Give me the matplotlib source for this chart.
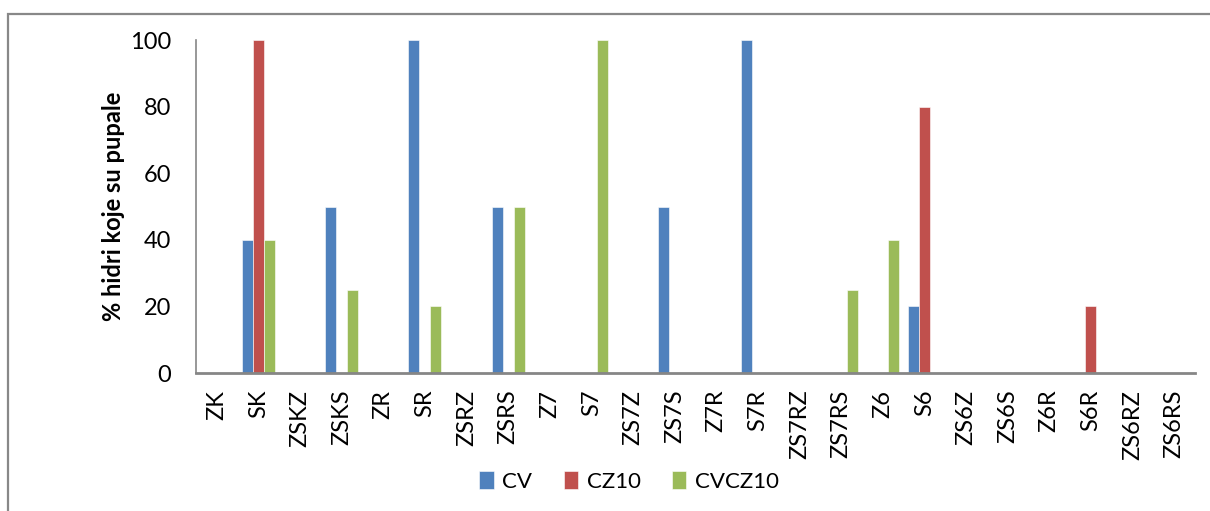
import numpy as np
import matplotlib.pyplot as plt
from matplotlib.patches import Rectangle

categories = ["ZK", "SK", "ZSKZ", "ZSKS", "ZR", "SR", "ZSRZ", "ZSRS", "Z7", "S7",
              "ZS7Z", "ZS7S", "Z7R", "S7R", "ZS7RZ", "ZS7RS", "Z6", "S6", "ZS6Z",
              "ZS6S", "Z6R", "S6R", "ZS6RZ", "ZS6RS"]
cv = [0, 40, 0, 50, 0, 100, 0, 50, 0, 0, 0, 50, 0, 100, 0, 0, 0, 20, 0, 0, 0, 0, 0, 0]
cz10 = [0, 100, 0, 0, 0, 0, 0, 0, 0, 0, 0, 0, 0, 0, 0, 0, 0, 80, 0, 0, 0, 20, 0, 0]
cvcz10 = [0, 40, 0, 25, 0, 20, 0, 50, 0, 100, 0, 0, 0, 0, 0, 25, 40, 0, 0, 0, 0, 0, 0, 0]
series = [("CV", cv, "#4f81bd"), ("CZ10", cz10, "#c0504d"), ("CVCZ10", cvcz10, "#9bbb59")]

plt.rcParams["font.family"] = ["Lato", "DejaVu Sans"]

fig = plt.figure(figsize=(12.1, 5.11), dpi=100)
ax = fig.add_axes([0.162, 0.270, 0.8256, 0.6517])

# chart area border (Excel style)
fig.patches.append(Rectangle((8 / 1210, -0.2), 1.2, 1.2 - 14 / 511,
                             transform=fig.transFigure, fill=False,
                             edgecolor="#888888", linewidth=1.6))

x = np.arange(len(categories))
w = 0.265
for i, (name, vals, col) in enumerate(series):
    ax.bar(x + (i - 1) * w, vals, width=w, color=col, label=name,
           edgecolor="white", linewidth=0.4)

ax.set_xlim(-0.5, len(categories) - 0.5)
ax.set_ylim(0, 100)
ax.set_yticks(range(0, 101, 20))
ax.set_xticks(x)
ax.set_xticklabels(categories, rotation=90, fontsize=17)
ax.tick_params(axis="y", length=0, pad=18, labelsize=17)
ax.tick_params(axis="x", length=0, pad=12)
for s in ["top", "right"]:
    ax.spines[s].set_visible(False)
for s in ["left", "bottom"]:
    ax.spines[s].set_color("#868686")
ax.spines["left"].set_linewidth(1.2)
ax.spines["bottom"].set_linewidth(2)

ax.set_ylabel("% hidri koje su pupale", fontsize=17, fontweight="bold")
ax.yaxis.set_label_coords(-0.071, 0.5)

fig.legend(loc="center", bbox_to_anchor=(0.52, 0.058), ncol=3, frameon=False,
           fontsize=16, handlelength=0.65, handleheight=0.9, handletextpad=0.4,
           columnspacing=1.4)

fig.savefig("out.png", dpi=100)
